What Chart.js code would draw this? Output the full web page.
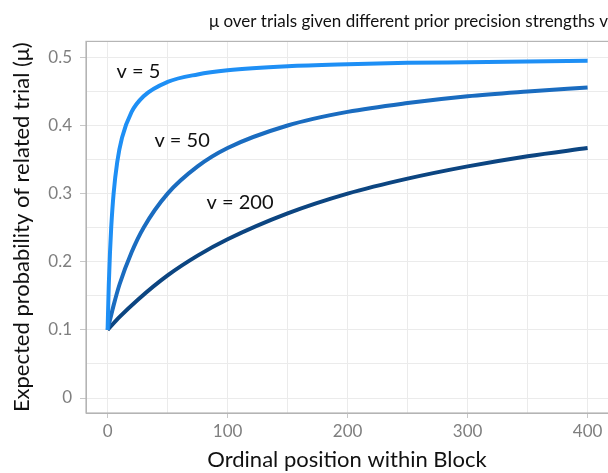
<!DOCTYPE html>
<html lang="en">
<head>
  <meta charset="UTF-8">
  <title>mu over trials</title>
  <script src="https://cdn.jsdelivr.net/npm/chart.js"></script>
  <style>
    body { margin: 0; background: #fff; }
    canvas { display: block; }
  </style>
</head>
<body>
  <canvas id="muChart" width="608" height="473"></canvas>
  <script>
    // values
    const v5X = [0, 1, 2, 3, 5, 8, 12, 20, 30, 50, 75, 100, 150, 200, 250, 300, 350, 400];
    const v5Y = [0.1, 0.167, 0.214, 0.25, 0.3, 0.346, 0.382, 0.42, 0.443, 0.464, 0.475, 0.481, 0.487, 0.49, 0.492, 0.493, 0.494, 0.495];
    const v50X = [0, 5, 10, 20, 30, 50, 75, 100, 150, 200, 250, 300, 350, 400];
    const v50Y = [0.1, 0.136, 0.167, 0.214, 0.25, 0.3, 0.34, 0.367, 0.4, 0.42, 0.433, 0.443, 0.45, 0.456];
    const v200X = [0, 10, 25, 50, 75, 100, 150, 200, 250, 300, 350, 400];
    const v200Y = [0.1, 0.119, 0.144, 0.18, 0.209, 0.233, 0.271, 0.3, 0.322, 0.34, 0.355, 0.367];

    const labelText = ['v = 5', 'v = 50', 'v = 200'];
    const labelX = [7.5, 39, 82.5];
    const labelY = [0.479, 0.378, 0.287];

    const FONT = 'Lato, "Open Sans", sans-serif';

    function pts(xs, ys) {
      return xs.map((x, i) => ({ x: x, y: ys[i] }));
    }

    // text labels next to curves, placed through the scales
    const curveLabels = {
      id: 'curveLabels',
      afterDatasetsDraw(chart) {
        const { ctx, scales } = chart;
        ctx.save();
        ctx.font = '20px ' + FONT;
        ctx.fillStyle = '#111';
        ctx.textBaseline = 'middle';
        ctx.textAlign = 'left';
        labelText.forEach((t, i) => {
          ctx.fillText(t, scales.x.getPixelForValue(labelX[i]), scales.y.getPixelForValue(labelY[i]));
        });
        ctx.restore();
      }
    };

    const frame = {
      id: 'frame',
      afterDraw(chart) {
        const a = chart.chartArea;
        const ctx = chart.ctx;
        ctx.save();
        ctx.strokeStyle = '#b5b5b5';
        ctx.lineWidth = 1.2;
        ctx.strokeRect(a.left, a.top, a.right - a.left + 2, a.bottom - a.top);
        ctx.restore();
      }
    };

    const line = (label, data, color) => ({
      label: label,
      data: data,
      borderColor: color,
      borderWidth: 4,
      pointRadius: 0,
      fill: false,
      cubicInterpolationMode: 'monotone'
    });

    new Chart(document.getElementById('muChart'), {
      type: 'line',
      data: {
        datasets: [
          line('v = 5', pts(v5X, v5Y), '#1e8ff5'),
          line('v = 50', pts(v50X, v50Y), '#1a6cc0'),
          line('v = 200', pts(v200X, v200Y), '#0c4581')
        ]
      },
      options: {
        responsive: false,
        animation: false,
        layout: { padding: 0 },
        plugins: {
          legend: { display: false },
          tooltip: { enabled: false },
          title: {
            display: true,
            text: 'μ over trials given different prior precision strengths v',
            align: 'end',
            color: '#111',
            font: { family: FONT, size: 17, weight: 'normal' },
            padding: { top: 11, bottom: 10 }
          }
        },
        scales: {
          x: {
            type: 'linear',
            min: -18,
            max: 417,
            afterFit(s) { s.height = 60; },
            ticks: {
              stepSize: 50,
              includeBounds: false,
              maxRotation: 0,
              color: '#7f7f7f',
              padding: 3,
              font: { family: FONT, size: 17 },
              callback: v => (v % 100 === 0 ? String(v) : '')
            },
            grid: {
              color: '#ebebeb',
              tickLength: 5,
              tickColor: c => (c.tick && c.tick.value % 100 === 0 ? '#c8c8c8' : 'rgba(0,0,0,0)')
            },
            border: { color: '#b5b5b5' },
            title: {
              display: true,
              text: 'Ordinal position within Block',
              color: '#111',
              font: { family: FONT, size: 22 },
              padding: { top: 6, bottom: 0 }
            }
          },
          y: {
            min: -0.022,
            max: 0.5235,
            afterFit(s) { s.width = 86; },
            ticks: {
              stepSize: 0.05,
              includeBounds: false,
              color: '#7f7f7f',
              padding: 8,
              font: { family: FONT, size: 17 },
              callback: v => {
                const k = Math.round(v * 100);
                if (k % 10 !== 0) return '';
                return k === 0 ? '0' : (k / 100).toFixed(1);
              }
            },
            grid: {
              color: '#ebebeb',
              tickLength: 6,
              tickColor: c => (c.tick && Math.round(c.tick.value * 100) % 10 === 0 ? '#c8c8c8' : 'rgba(0,0,0,0)')
            },
            border: { color: '#b5b5b5' },
            title: {
              display: true,
              text: 'Expected probability of related trial (μ)',
              color: '#111',
              font: { family: FONT, size: 22 },
              padding: { top: 9, bottom: 4 }
            }
          }
        }
      },
      plugins: [curveLabels, frame]
    });
  </script>
</body>
</html>
